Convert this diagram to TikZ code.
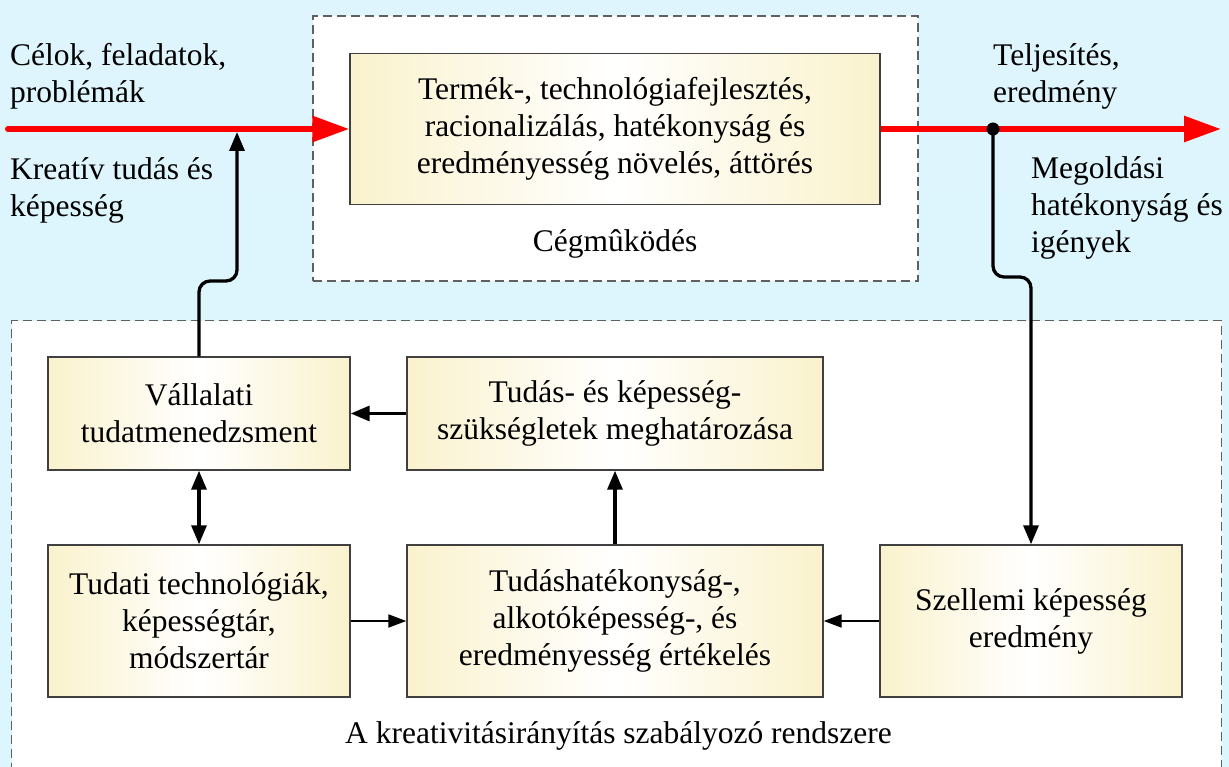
\documentclass[tikz,border=0pt]{standalone}
\usepackage{fontspec}
\setmainfont{Liberation Serif}
\usetikzlibrary{arrows.meta}
\definecolor{bgtop}{RGB}{222,245,253}
\definecolor{bgmid}{RGB}{212,250,255}
\definecolor{bgbot}{RGB}{220,246,253}
\definecolor{boxy}{RGB}{250,242,205}
\definecolor{dashgray}{RGB}{96,96,96}
\definecolor{arrred}{RGB}{255,0,0}
\begin{document}
\begin{tikzpicture}[x=1pt,y=-1pt,
  every node/.style={font=\fontsize{31.5}{37}\selectfont},
  box/.style={draw=black!75, line width=1.4pt, left color=boxy, right color=boxy, middle color=white, align=center, inner sep=0pt},
  dbox/.style={draw=dashgray, fill=white, dash pattern=on 9pt off 5pt, line width=1.4pt, inner sep=0pt},
  lbl/.style={align=left, anchor=north west, inner sep=0pt},
  thickarr/.style={line width=3.3pt, -{Triangle[length=19pt,width=15pt]}},
  thinarr/.style={line width=2pt, -{Triangle[length=18pt,width=13pt]}},
  redarr/.style={draw=arrred, line width=6pt, -{Triangle[length=37pt,width=25pt]}}
]
\useasboundingbox (0,0) rectangle (1229,767);
\clip (0,0) rectangle (1229,767);
\fill[top color=bgtop, middle color=bgmid, bottom color=bgbot] (0,0) rectangle (1229,767);

% dashed frames
\node[dbox, minimum width=605pt, minimum height=265pt] (ceg) at (615.5,148.5) {};
\node[dbox, minimum width=1210pt, minimum height=470pt, anchor=north west] (kr) at (11,320) {};

% boxes
\node[box, minimum width=530pt, minimum height=151pt] (term) at (615,129)
  {Termék-, technológiafejlesztés,\\racionalizálás, hatékonyság és\\eredményesség növelés, áttörés};
\node[box, minimum width=302pt, minimum height=113pt] (vall) at (199,413.5)
  {Vállalati\\tudatmenedzsment};
\node[box, minimum width=416pt, minimum height=113pt] (tudas) at (615,413.5)
  {Tudás- és képesség-\\szükségletek meghatározása};
\node[box, minimum width=302pt, minimum height=152pt] (tudati) at (199,621)
  {Tudati technológiák,\\képességtár,\\módszertár};
\node[box, minimum width=416pt, minimum height=152pt] (tudhat) at (615,621)
  {Tudáshatékonyság-,\\alkotóképesség-, és\\eredményesség értékelés};
\node[box, minimum width=302pt, minimum height=152pt] (szell) at (1031,621)
  {Szellemi képesség\\eredmény};

% labels
\node[anchor=base] (ceglbl) at (615,252) {Cégmûködés};
\node[anchor=base west, inner sep=0pt] (krlbl) at (345,743) {A kreativitásirányítás szabályozó rendszere};
\node[lbl] (celok) at (10,43) {Célok, feladatok,\\problémák};
\node[lbl] (kreat) at (10,157) {Kreatív tudás és\\képesség};
\node[lbl] (telj) at (993,43) {Teljesítés,\\eredmény};
\node[lbl] (megold) at (1031,156) {Megoldási\\hatékonyság és\\igények};

% coordinates
\coordinate (lstart) at (8,129);
\coordinate (rend) at (1221,129);
\coordinate (junc) at (993,129);
\coordinate (intip) at (237,132);

% red main flow
\draw[redarr, line cap=round] (lstart) -- (term.west);
\draw[redarr] (term.east) -- (rend);

% feedback connectors
\draw[thickarr, rounded corners=11pt] (vall.north) -- (199,281) -- (237,281) -- (intip);
\draw[thickarr, rounded corners=11pt] (junc) -- (993,277) -- (1031,277) -- (szell.north);
\fill (junc) circle (6.5pt);

\draw[thickarr] (tudas.west) -- (vall.east);
\draw[thickarr] (tudhat.north) -- (tudas.south);
\draw[line width=3.3pt, {Triangle[length=19pt,width=15pt]}-{Triangle[length=19pt,width=15pt]}] (vall.south) -- (tudati.north);
\draw[thinarr] (tudati.east) -- (tudhat.west);
\draw[thinarr] (szell.west) -- (tudhat.east);
\end{tikzpicture}
\end{document}
